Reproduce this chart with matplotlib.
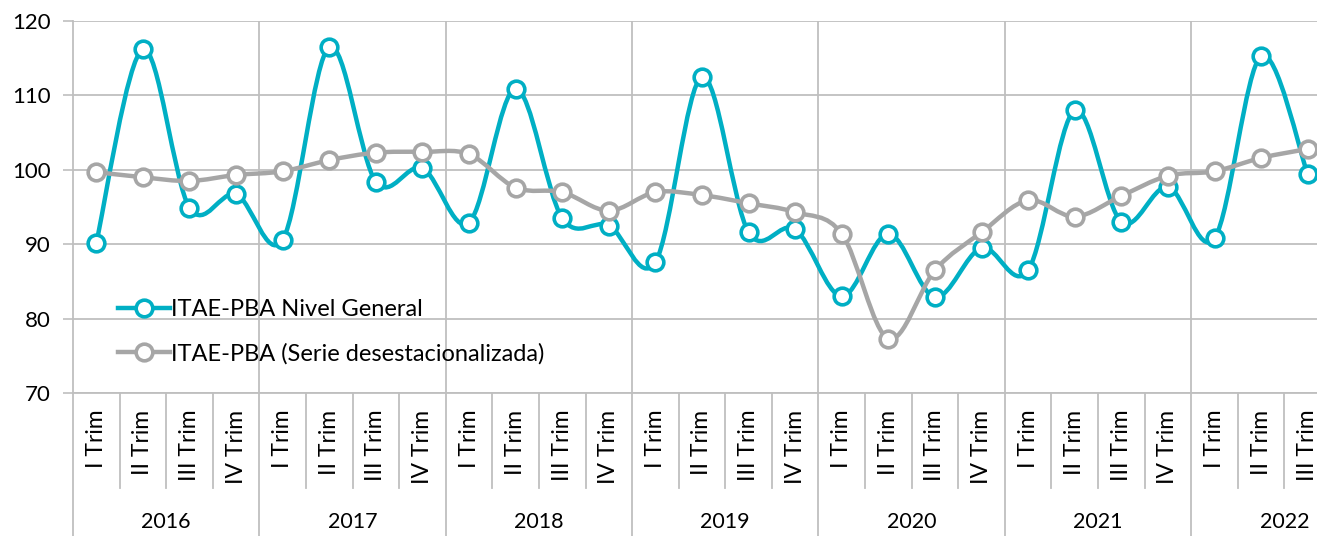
import numpy as np
import matplotlib.pyplot as plt
from matplotlib.path import Path
from matplotlib.patches import PathPatch
from matplotlib.lines import Line2D
import matplotlib.transforms as mtransforms

plt.rcParams['font.family'] = ['Lato', 'DejaVu Sans']

years = ['2016', '2017', '2018', '2019', '2020', '2021', '2022']
quarters = ['I Trim', 'II Trim', 'III Trim', 'IV Trim']
n_points = 27

nivel_general = [90.2, 116.2, 94.9, 96.7,
                 90.6, 116.5, 98.4, 100.2,
                 92.9, 110.9, 93.5, 92.5,
                 87.6, 112.5, 91.6, 92.0,
                 83.0, 91.4, 82.9, 89.5,
                 86.5, 108.0, 93.0, 97.7,
                 90.8, 115.3, 99.4]
desestacionalizada = [99.7, 99.0, 98.5, 99.3,
                      99.8, 101.3, 102.3, 102.4,
                      102.1, 97.6, 97.0, 94.5,
                      97.0, 96.6, 95.5, 94.3,
                      91.4, 77.3, 86.5, 91.6,
                      95.9, 93.7, 96.5, 99.2,
                      99.8, 101.6, 102.8]

teal = '#00AFC4'
gray = '#A6A6A6'
grid_c = '#BFBFBF'


def smooth_path(x, y):
    # Excel-like smoothed line: cubic bezier segments through the points
    p = np.column_stack([x, y])
    verts = [p[0]]
    codes = [Path.MOVETO]
    n = len(p)
    for i in range(n - 1):
        p0 = p[i - 1] if i > 0 else p[i]
        p1, p2 = p[i], p[i + 1]
        p3 = p[i + 2] if i + 2 < n else p[i + 1]
        c1 = p1 + (p2 - p0) / 6.0
        c2 = p2 - (p3 - p1) / 6.0
        verts += [c1, c2, p2]
        codes += [Path.CURVE4] * 3
    return Path(verts, codes)


fig = plt.figure(figsize=(13.17, 5.36), dpi=100)
ax = fig.add_axes([73 / 1317, 1 - 393 / 536, 1258 / 1317, 372 / 536])

x = np.arange(n_points) + 0.5
for vals, col in [(nivel_general, teal), (desestacionalizada, gray)]:
    ax.add_patch(PathPatch(smooth_path(x, vals), facecolor='none', edgecolor=col,
                           lw=3.2, capstyle='round', joinstyle='round', zorder=3))
    ax.plot(x, vals, ls='none', marker='o', ms=12, mfc='white', mec=col, mew=2.6, zorder=4)

ax.set_xlim(0, n_points)
ax.set_ylim(70, 120)
ax.set_yticks(np.arange(70, 121, 10))
ax.tick_params(axis='y', labelsize=16, length=7, color=grid_c, width=1.2, pad=9)
ax.set_xticks([])
ax.grid(axis='y', color=grid_c, lw=1.3)
ax.set_axisbelow(True)
for s in ['top', 'right']:
    ax.spines[s].set_visible(False)
for s in ['left', 'bottom']:
    ax.spines[s].set_color(grid_c)
    ax.spines[s].set_linewidth(1.3)

# year gridlines
for k in range(1, len(years)):
    ax.axvline(4 * k, color=grid_c, lw=1.3, zorder=0)

# two-level category axis
trans = mtransforms.blended_transform_factory(ax.transData, ax.transAxes)
for i in range(n_points + 1):
    low = -0.385 if i % 4 == 0 else -0.256
    ax.plot([i, i], [0, low], color=grid_c, lw=1.3, transform=trans, clip_on=False)
for i in range(n_points):
    ax.text(i + 0.5, -0.045, quarters[i % 4], rotation=90, ha='center', va='top',
            fontsize=16.5, transform=trans)
for k, yr in enumerate(years):
    ax.text(4 * k + 2, -0.347, yr, ha='center', va='center', fontsize=15.5, transform=trans)

handles = [Line2D([], [], color=teal, lw=3.2, marker='o', ms=12, mfc='white', mec=teal, mew=2.6),
           Line2D([], [], color=gray, lw=3.2, marker='o', ms=12, mfc='white', mec=gray, mew=2.6)]
fig.legend(handles, ['ITAE-PBA Nivel General', 'ITAE-PBA (Serie desestacionalizada)'],
           loc='upper left', bbox_to_anchor=(97 / 1317, 1 - 278 / 536), frameon=False,
           fontsize=17, handlelength=2.2, handletextpad=0.05, labelspacing=0.95)

fig.savefig('out.png', dpi=100)
